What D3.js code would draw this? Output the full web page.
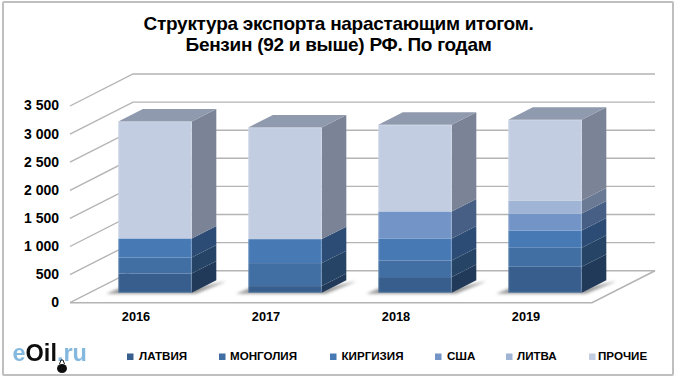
<!DOCTYPE html>
<html>
<head>
<meta charset="utf-8">
<script src="https://cdn.jsdelivr.net/npm/d3@7"></script>
<style>
html, body { margin: 0; padding: 0; background: #fff; }
svg { display: block; }
text { font-family: "Liberation Sans", Arial, sans-serif; font-weight: bold; fill: #000; }
.axis path { display: none; }
.axis line { display: none; }
</style>
</head>
<body>
<div class="container"></div>
<script>
const WIDTH = 680;
const HEIGHT = 384;

// значения
const years = ["2016", "2017", "2018", "2019"];
const seriesNames = ["ЛАТВИЯ", "МОНГОЛИЯ", "КИРГИЗИЯ", "США", "ЛИТВА", "ПРОЧИЕ"];
const latvia = [344, 119, 279, 463];
const mongolia = [285, 409, 297, 338];
const kyrgyzstan = [338, 427, 391, 308];
const usa = [0, 0, 480, 302];
const lithuania = [0, 0, 0, 231];
const other = [2082, 1987, 1542, 1435];
const yTicks = [0, 500, 1000, 1500, 2000, 2500, 3000, 3500];

const frontColors = ["#375e8c", "#426fa3", "#477ab5", "#7394c6", "#a0b4d6", "#c2cde2"];
const sideColors = ["#213a5a", "#264566", "#2c4c75", "#475f85", "#6a7a95", "#7b8496"];
const legendX = [127, 219, 330, 435, 506, 589];
const legendTextX = [139, 230, 341.5, 447, 517, 598];
const titleLines = ["Структура экспорта нарастающим итогом.", "Бензин (92 и выше) РФ. По годам"];

// псевдо-3D: сдвиг по глубине пола
const DEPTH_X = 63;
const DEPTH_Y = 32;
const BAR_D0 = 0.31;
const BAR_D1 = 0.70;
const GRID = "#b4b4b4";

var translate = function(x, y){
	return "translate("+x+","+y+")";
};

var createChart = function(){
	var svg = d3.select(".container").append("svg")
		.attr("width", WIDTH)
		.attr("height", HEIGHT);

	var defs = svg.append("defs");
	defs.append("filter").attr("id", "shadow")
		.attr("x", "-20%").attr("y", "-100%").attr("width", "140%").attr("height", "300%")
		.append("feGaussianBlur").attr("stdDeviation", 1.8);
	defs.append("filter").attr("id", "soft")
		.append("feGaussianBlur").attr("stdDeviation", 0.35);

	// рамка
	svg.append("rect")
		.attr("x", 3).attr("y", 2)
		.attr("width", 670).attr("height", 373)
		.attr("rx", 1)
		.attr("fill", "#fff")
		.attr("stroke", "#bfbfbf")
		.attr("stroke-width", 2);

	var xScale = d3.scaleBand()
		.domain(years)
		.range([70.5, 590.5])
		.paddingInner(0.435)
		.paddingOuter(0.2175);

	var yScale = d3.scaleLinear()
		.domain([0, 3500])
		.range([302.7, 106]);

	var rows = years.map(function(y, i){
		return {
			year: y,
			"ЛАТВИЯ": latvia[i],
			"МОНГОЛИЯ": mongolia[i],
			"КИРГИЗИЯ": kyrgyzstan[i],
			"США": usa[i],
			"ЛИТВА": lithuania[i],
			"ПРОЧИЕ": other[i]
		};
	});
	var stacked = d3.stack().keys(seriesNames)(rows);

	var x0 = 70;
	var x1 = 592;

	// сетка: левая стенка + задняя стенка
	var grid = svg.append("g");
	grid.selectAll("path.grid")
		.data(yTicks)
		.enter().append("path")
		.attr("class", "grid")
		.attr("fill", "none")
		.attr("stroke", GRID)
		.attr("stroke-width", 1.4)
		.attr("d", function(t){
			var y = yScale(t);
			var p = d3.path();
			p.moveTo(x0, y);
			p.lineTo(x0 + DEPTH_X, y - DEPTH_Y);
			p.lineTo(x1 + DEPTH_X, y - DEPTH_Y);
			return p.toString();
		});

	// пол: передний и правый края
	var floorY = yScale(0);
	var floor = d3.path();
	floor.moveTo(x0, floorY);
	floor.lineTo(x1, floorY);
	floor.lineTo(x1 + DEPTH_X, floorY - DEPTH_Y);
	grid.append("path")
		.attr("d", floor.toString())
		.attr("fill", "none")
		.attr("stroke", GRID)
		.attr("stroke-width", 1.6);

	// тени столбцов на полу
	svg.append("g").selectAll("path")
		.data(years)
		.enter().append("path")
		.attr("filter", "url(#shadow)")
		.attr("fill", "#777")
		.attr("fill-opacity", 0.75)
		.attr("d", function(y){
			var a = xScale(y) + BAR_D0 * DEPTH_X;
			var w = xScale.bandwidth();
			var b = floorY - BAR_D0 * DEPTH_Y;
			var dx = (BAR_D1 - BAR_D0) * DEPTH_X;
			var dy = (BAR_D1 - BAR_D0) * DEPTH_Y;
			return "M" + (a - 12) + "," + (b + 1)
				+ "L" + (a + w + 4) + "," + (b + 1)
				+ "L" + (a + w + dx + 10) + "," + (b - dy + 1)
				+ "L" + (a + w) + "," + (b - 4)
				+ "L" + a + "," + (b - 4) + "Z";
		});

	// столбцы
	var barDx = (BAR_D1 - BAR_D0) * DEPTH_X;
	var barDy = (BAR_D1 - BAR_D0) * DEPTH_Y;
	var bars = svg.append("g")
		.attr("transform", translate(BAR_D0 * DEPTH_X, -BAR_D0 * DEPTH_Y));

	var layers = bars.selectAll("g.layer")
		.data(stacked)
		.enter().append("g")
		.attr("class", "layer");

	layers.selectAll("path.side")
		.data(function(s){
			return s.map(function(d){ return {d: d, i: s.index}; })
				.filter(function(o){ return o.d[1] > o.d[0]; });
		})
		.enter().append("path")
		.attr("class", "side")
		.attr("fill", function(o){ return sideColors[o.i]; })
		.attr("d", function(o){
			var r = xScale(o.d.data.year) + xScale.bandwidth();
			var top = yScale(o.d[1]);
			var bot = yScale(o.d[0]);
			return "M" + r + "," + bot
				+ "L" + r + "," + top
				+ "L" + (r + barDx) + "," + (top - barDy)
				+ "L" + (r + barDx) + "," + (bot - barDy) + "Z";
		});

	layers.selectAll("rect.front")
		.data(function(s){
			return s.map(function(d){ return {d: d, i: s.index}; })
				.filter(function(o){ return o.d[1] > o.d[0]; });
		})
		.enter().append("rect")
		.attr("class", "front")
		.attr("x", function(o){ return xScale(o.d.data.year); })
		.attr("y", function(o){ return yScale(o.d[1]); })
		.attr("width", xScale.bandwidth())
		.attr("height", function(o){ return yScale(o.d[0]) - yScale(o.d[1]); })
		.attr("fill", function(o){ return frontColors[o.i]; });

	// верхняя грань — по сумме столбца
	bars.selectAll("path.top")
		.data(rows)
		.enter().append("path")
		.attr("class", "top")
		.attr("fill", "#8f9aae")
		.attr("d", function(r){
			var l = xScale(r.year);
			var w = xScale.bandwidth();
			var t = yScale(d3.sum(seriesNames, function(k){ return r[k]; }));
			return "M" + l + "," + t
				+ "L" + (l + w) + "," + t
				+ "L" + (l + w + barDx) + "," + (t - barDy)
				+ "L" + (l + barDx) + "," + (t - barDy) + "Z";
		});

	// светлая кромка передней грани
	bars.selectAll("rect.edge")
		.data(rows)
		.enter().append("rect")
		.attr("class", "edge")
		.attr("x", function(r){ return xScale(r.year) + 0.5; })
		.attr("y", function(r){ return yScale(d3.sum(seriesNames, function(k){ return r[k]; })) + 0.5; })
		.attr("width", xScale.bandwidth() - 1)
		.attr("height", function(r){ return yScale(0) - yScale(d3.sum(seriesNames, function(k){ return r[k]; })) - 1; })
		.attr("fill", "none")
		.attr("stroke", "#fff")
		.attr("stroke-opacity", 0.18);

	// подписи осей
	var locale = d3.formatLocale({decimal: ",", thousands: " ", grouping: [3], currency: ["", ""]});
	var yAxis = d3.axisLeft(yScale)
		.tickValues(yTicks)
		.tickFormat(locale.format(","))
		.tickSize(0)
		.tickPadding(0);
	svg.append("g")
		.attr("class", "axis")
		.attr("transform", translate(59, -0.5))
		.call(yAxis)
		.selectAll("text")
		.style("font-size", "14px")
		.style("font-family", "'Liberation Sans', Arial, sans-serif");

	var xAxis = d3.axisBottom(xScale).tickSize(0).tickPadding(0);
	svg.append("g")
		.attr("class", "axis")
		.attr("transform", translate(0.5, 312))
		.call(xAxis)
		.selectAll("text")
		.style("font-size", "12.8px")
		.style("font-family", "'Liberation Sans', Arial, sans-serif");

	// заголовок
	svg.append("g").selectAll("text")
		.data(titleLines)
		.enter().append("text")
		.attr("x", 338.5)
		.attr("y", function(d, i){ return 30 + i * 21; })
		.attr("text-anchor", "middle")
		.style("font-size", "19px")
		.style("letter-spacing", "-0.28px")
		.text(function(d){ return d; });

	// легенда
	var legend = svg.append("g").selectAll("g")
		.data(seriesNames)
		.enter().append("g");
	legend.append("rect")
		.attr("x", function(d, i){ return legendX[i]; })
		.attr("y", 353.5)
		.attr("width", 6.5).attr("height", 6.5)
		.attr("fill", function(d, i){ return frontColors[i]; });
	legend.append("text")
		.attr("x", function(d, i){ return legendTextX[i]; })
		.attr("y", 360)
		.style("font-size", "11.6px")
		.text(function(d){ return d; });

	// логотип
	var logo = svg.append("g").attr("filter", "url(#soft)");
	var logoText = logo.append("text")
		.attr("x", 12.5)
		.attr("y", 360.5)
		.style("font-size", "23.5px");
	logoText.append("tspan").style("fill", "#84b8de").text("e");
	logoText.append("tspan").style("fill", "#111").text("Oil");
	logoText.append("tspan").style("fill", "#84b8de").text(".ru");
	logo.append("ellipse")
		.attr("cx", 62).attr("cy", 368.5)
		.attr("rx", 5).attr("ry", 4.5)
		.attr("fill", "#111");
	logo.append("path")
		.attr("d", "M59.5,364L61,360L63,360L64.5,364")
		.attr("fill", "none")
		.attr("stroke", "#111")
		.attr("stroke-width", 1);
};

window.onload = createChart;
</script>
</body>
</html>
